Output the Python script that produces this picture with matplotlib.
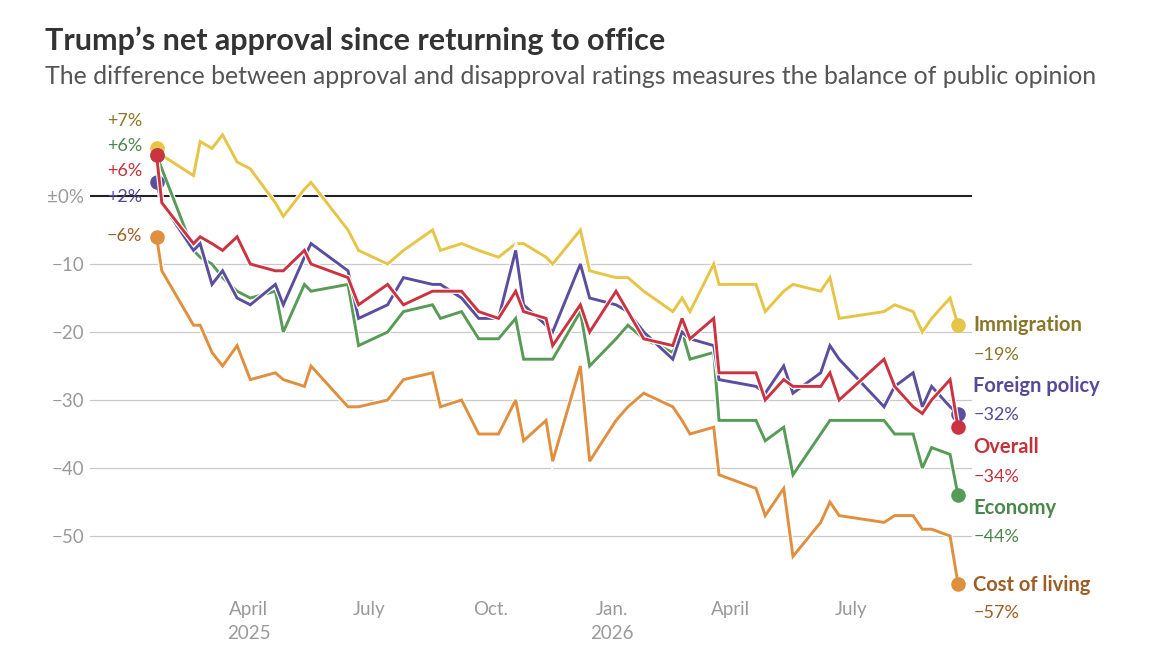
import numpy as np
import pandas as pd
import matplotlib
matplotlib.use("Agg")
import matplotlib.pyplot as plt
import matplotlib.patheffects as pe

# poll dates and net approval (%) per topic
dates = ["2025-01-21", "2025-01-25", "2025-02-18", "2025-02-23", "2025-03-04",
         "2025-03-12", "2025-03-23", "2025-04-02", "2025-04-21", "2025-04-27",
         "2025-05-13", "2025-05-18", "2025-06-15", "2025-06-23", "2025-07-15",
         "2025-07-27", "2025-08-18", "2025-08-24", "2025-09-09", "2025-09-22",
         "2025-10-07", "2025-10-20", "2025-10-26", "2025-11-12", "2025-11-17",
         "2025-12-08", "2025-12-15", "2026-01-04", "2026-01-13", "2026-01-25",
         "2026-02-16", "2026-02-23", "2026-03-01", "2026-03-19", "2026-03-23",
         "2026-04-20", "2026-04-27", "2026-05-11", "2026-05-18", "2026-06-08",
         "2026-06-15", "2026-06-22", "2026-07-26", "2026-08-03", "2026-08-17",
         "2026-08-24", "2026-08-31", "2026-09-14", "2026-09-20"]

overall = [6, -1, -7, -6, -7, -8, -6, -10, -11, -11,
           -8, -10, -12, -16, -13, -16, -14, -14, -14, -17,
           -18, -14, -17, -18, -22, -16, -20, -14, -17, -21,
           -22, -18, -21, -18, -26, -26, -30, -27, -28, -28,
           -26, -30, -24, -28, -31, -32, -30, -27, -34]
foreign_policy = [2, -1, -8, -7, -13, -11, -15, -16, -13, -16,
                  -9, -7, -11, -18, -16, -12, -13, -13, -15, -18,
                  -18, -8, -16, -19, -20, -10, -15, -16, -17, -20,
                  -24, -20, -21, -22, -27, -28, -29, -25, -29, -26,
                  -22, -24, -31, -28, -26, -31, -28, -31, -32]
economy = [6, 4, -8, -9, -10, -12, -14, -15, -14, -20,
           -13, -14, -13, -22, -20, -17, -16, -18, -17, -21,
           -21, -18, -24, -24, -24, -17, -25, -21, -19, -21,
           -23, -20, -24, -23, -33, -33, -36, -34, -41, -35,
           -33, -33, -33, -35, -35, -40, -37, -38, -44]
immigration = [7, 6, 3, 8, 7, 9, 5, 4, -1, -3,
               1, 2, -5, -8, -10, -8, -5, -8, -7, -8,
               -9, -7, -7, -9, -10, -5, -11, -12, -12, -14,
               -17, -15, -17, -10, -13, -13, -17, -14, -13, -14,
               -12, -18, -17, -16, -17, -20, -18, -15, -19]
cost_of_living = [-6, -11, -19, -19, -23, -25, -22, -27, -26, -27,
                  -28, -25, -31, -31, -30, -27, -26, -31, -30, -35,
                  -35, -30, -36, -33, -39, -25, -39, -33, -31, -29,
                  -31, -33, -35, -34, -41, -43, -47, -43, -53, -48,
                  -45, -47, -48, -47, -47, -49, -49, -50, -57]

yticks = [0, -10, -20, -30, -40, -50]
ytick_labels = ["±0%", "−10", "−20", "−30", "−40", "−50"]
xticks = ["2025-04-01", "2025-07-01", "2025-10-01", "2026-01-01", "2026-04-01", "2026-07-01"]
xtick_labels = ["April\n2025", "July", "Oct.", "Jan.\n2026", "April", "July"]

# name, values, line colour, text colour, start label y, end name y, end value y
SERIES = [
    ("Cost of living", cost_of_living, "#e08f3e", "#9e5d24", -5.9, -57.2, -61.3),
    ("Immigration",    immigration,    "#e6c446", "#8a7628", 11.0, -19.0, -23.4),
    ("Economy",        economy,        "#579b57", "#4a874b", 7.35, -45.9, -50.1),
    ("Foreign policy", foreign_policy, "#5b4e9e", "#57489a", -0.15, -28.0, -32.2),
    ("Overall",        overall,        "#cc3340", "#c2323b", 3.7, -36.9, -41.3),
]

FONT = ["Lato", "DejaVu Sans"]
plt.rcParams["font.family"] = FONT

x = pd.to_datetime(dates)
apr1 = pd.Timestamp("2025-04-01")

fig = plt.figure(figsize=(11.56, 6.66), dpi=100)
W, H = 1156, 666
ax = fig.add_axes([90 / W, (H - 600) / H, (972 - 90) / W, 490 / H])
ax.set_xlim(apr1 + pd.Timedelta(days=-120.4), apr1 + pd.Timedelta(days=547.6))
ax.set_ylim((196 - 600) / 6.8, (196 - 110) / 6.8)

for s in ax.spines.values():
    s.set_visible(False)

for v in yticks:
    if v == 0:
        ax.axhline(v, color="#222222", lw=1.5, zorder=2)
    else:
        ax.axhline(v, color="#c9c9c9", lw=0.9, zorder=1)

ax.set_yticks(yticks)
ax.set_yticklabels(ytick_labels)
ax.set_xticks(pd.to_datetime(xticks))
ax.set_xticklabels(xtick_labels, linespacing=1.45)
ax.tick_params(length=0, labelsize=13.5, labelcolor="#9a9a9a")
ax.tick_params(axis="y", pad=4)
ax.tick_params(axis="x", pad=1)

halo = [pe.Stroke(linewidth=3.8, foreground="white"), pe.Normal()]
for i, (name, vals, col, tcol, y0, yn, yv) in enumerate(SERIES):
    z = 3 + i
    ax.plot(x, vals, color=col, lw=2.1, zorder=z, solid_joinstyle="miter",
            path_effects=halo)
    ax.plot([x[0], x[-1]], [vals[0], vals[-1]], "o", color=col, ms=10.5,
            mec="none", zorder=z, clip_on=False)
    v0 = vals[0]
    start = f"+{v0}%" if v0 > 0 else f"−{abs(v0)}%"
    ax.annotate(start, xy=(x[0], y0), xytext=(-10.5, 0), textcoords="offset points",
                ha="right", va="center", fontsize=13, color=tcol,
                annotation_clip=False)
    ax.annotate(name, xy=(x[-1], yn), xytext=(11, 0), textcoords="offset points",
                ha="left", va="center", fontsize=14.5, color=tcol,
                fontweight="bold", annotation_clip=False)
    ax.annotate(f"−{abs(vals[-1])}%", xy=(x[-1], yv), xytext=(11, 0),
                textcoords="offset points", ha="left", va="center", fontsize=13,
                color=tcol, annotation_clip=False)

fig.text(45 / W, 1 - 50 / H, "Trump’s net approval since returning to office",
         fontsize=22, fontweight="bold", color="#333333", va="baseline")
fig.text(45 / W, 1 - 84 / H,
         "The difference between approval and disapproval ratings measures the balance of public opinion",
         fontsize=17.9, color="#555555", va="baseline")

fig.savefig("out.png", dpi=100)
